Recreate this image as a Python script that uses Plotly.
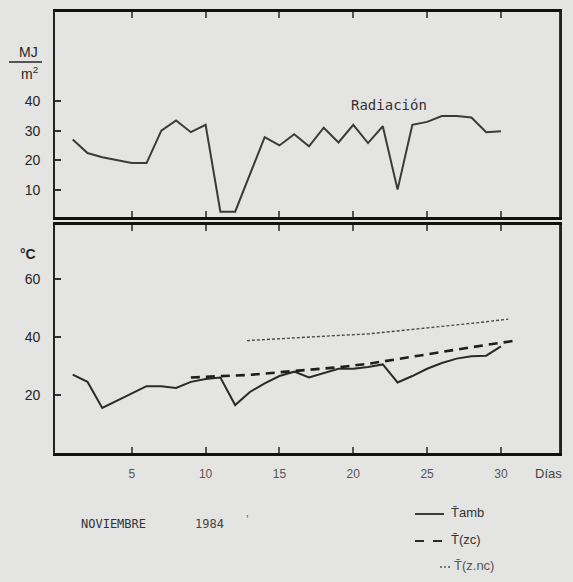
import plotly.graph_objects as go

# ---- data ----
days = list(range(1, 31))
radiacion = [27, 22.4, 21, 20, 19, 19, 30, 33.5, 29.5, 32, 2.5, 2.5, 15, 27.8, 25,
             28.8, 24.7, 31, 26, 32, 25.8, 31.5, 10, 32, 33, 35, 35, 34.5, 29.5, 29.8]
t_amb = [27, 24.5, 15.5, 18, 20.5, 23, 23, 22.4, 24.5, 25.5, 26, 16.5, 21, 24, 26.5,
         28, 26, 27.5, 29, 29, 29.6, 30.5, 24.3, 26.5, 29, 31, 32.5, 33.3, 33.5, 36.7]
zc_days = [9, 11, 13, 15, 17, 19, 21, 23, 25, 27, 29, 31]
t_zc = [26, 26.4, 26.9, 27.8, 28.6, 29.5, 30.7, 32.4, 34, 35.6, 37.2, 38.7]
nc_days = [12.8, 15, 18, 21, 23, 26, 28.5, 30.5]
t_nc = [38.7, 39.4, 40.2, 41, 42, 43.6, 44.9, 46.1]

x_ticks = [5, 10, 15, 20, 25, 30]
rad_ticks = [10, 20, 30, 40]
temp_ticks = [20, 40, 60]

BG = "#e4e4e2"
INK = "#262626"
W, H = 573, 582

fig = go.Figure()
fig.add_trace(go.Scatter(x=days, y=radiacion, mode="lines", xaxis="x", yaxis="y",
                         line=dict(color="#3a3a3a", width=2), showlegend=False))
fig.add_trace(go.Scatter(x=days, y=t_amb, mode="lines", xaxis="x2", yaxis="y2",
                         line=dict(color="#2a2a2a", width=2), showlegend=False))
fig.add_trace(go.Scatter(x=zc_days, y=t_zc, mode="lines", xaxis="x2", yaxis="y2",
                         line=dict(color="#1e1e1e", width=2.6, dash="9px,6px"), showlegend=False))
fig.add_trace(go.Scatter(x=nc_days, y=t_nc, mode="lines", xaxis="x2", yaxis="y2",
                         line=dict(color="#4a4a4a", width=1.4, dash="3px,2px"), showlegend=False))

xdom = [55 / W, 560 / W]
common_x = dict(range=[-0.2, 34], tickvals=x_ticks, ticks="inside", ticklen=6,
                tickcolor="#555", tickwidth=1.5, showgrid=False, zeroline=False,
                showline=True, linecolor="#111", linewidth=2.6, mirror="ticks", domain=xdom)
common_y = dict(ticks="inside", ticklen=6, tickcolor="#333", tickwidth=1.5,
                showgrid=False, zeroline=False, showline=True, linecolor="#222",
                linewidth=1.6, mirror=True,
                tickfont=dict(family="Liberation Sans", size=14, color=INK),
                ticklabelstandoff=10)

fig.update_layout(
    width=W, height=H, margin=dict(l=0, r=0, t=0, b=0),
    paper_bgcolor=BG, plot_bgcolor=BG,
    xaxis=dict(common_x, anchor="y", showticklabels=False),
    yaxis=dict(common_y, range=[0.7, 70.3], tickvals=rad_ticks, anchor="x",
               domain=[1 - 217 / H, 1 - 12 / H]),
    xaxis2=dict(common_x, anchor="y2", showticklabels=True,
                tickfont=dict(family="Liberation Sans", size=12, color="#555"),
                ticklabelstandoff=8),
    yaxis2=dict(common_y, range=[0, 78.5], tickvals=temp_ticks, anchor="x2",
                domain=[1 - 453 / H, 1 - 225 / H]),
)

# panel frames (right edges)
for xa, ya in (("x", "y"), ("x2", "y2")):
    fig.add_shape(type="line", xref=f"{xa} domain", yref=f"{ya} domain",
                  x0=1, x1=1, y0=0, y1=1, line=dict(color="#222", width=1.8))

def ann(text, x, y, size=13, color=INK, xanchor="center", family="Liberation Sans"):
    fig.add_annotation(text=text, x=x / W, y=1 - y / H, xref="paper", yref="paper",
                       showarrow=False, xanchor=xanchor, yanchor="middle",
                       font=dict(family=family, size=size, color=color))

def key_line(x0, x1, y, dash, width, color):
    fig.add_shape(type="line", xref="paper", yref="paper", x0=x0 / W, x1=x1 / W,
                  y0=1 - y / H, y1=1 - y / H, line=dict(color=color, width=width, dash=dash))

# y-axis unit labels
ann("MJ", 28, 52, size=14)
fig.add_shape(type="line", xref="paper", yref="paper", x0=9 / W, x1=42 / W,
              y0=1 - 62 / H, y1=1 - 62 / H, line=dict(color=INK, width=1.6))
ann("m<sup>2</sup>", 29, 73, size=14)
ann("<b>°C</b>", 28, 254, size=14)

ann("Radiación", 389, 105, size=14, family="DejaVu Sans Mono", color="#333")
ann("Días", 548, 473, size=13, color="#444")

ann("NOVIEMBRE", 113, 524, size=12, family="DejaVu Sans Mono", color="#333")
ann("1984", 209, 524, size=12, family="DejaVu Sans Mono", color="#444")
ann("ʼ", 247, 520, size=12, color="#666")

# key
key_line(415, 444, 514, "solid", 1.8, "#2a2a2a")
key_line(415, 443, 541, "9px,9px", 2.2, "#2a2a2a")
key_line(440, 451, 567, "2px,2px", 1.4, "#555")
ann("T̄amb", 449, 512, size=13, xanchor="left", color="#333")
ann("T̄(zc)", 449, 539, size=13, xanchor="left", color="#333")
ann("T̄(z.nc)", 452, 565, size=13, xanchor="left", color="#555")

fig.write_html("out.html", config={"displayModeBar": False},
               post_script="document.body.style.margin='0';document.body.style.overflow='hidden';")
